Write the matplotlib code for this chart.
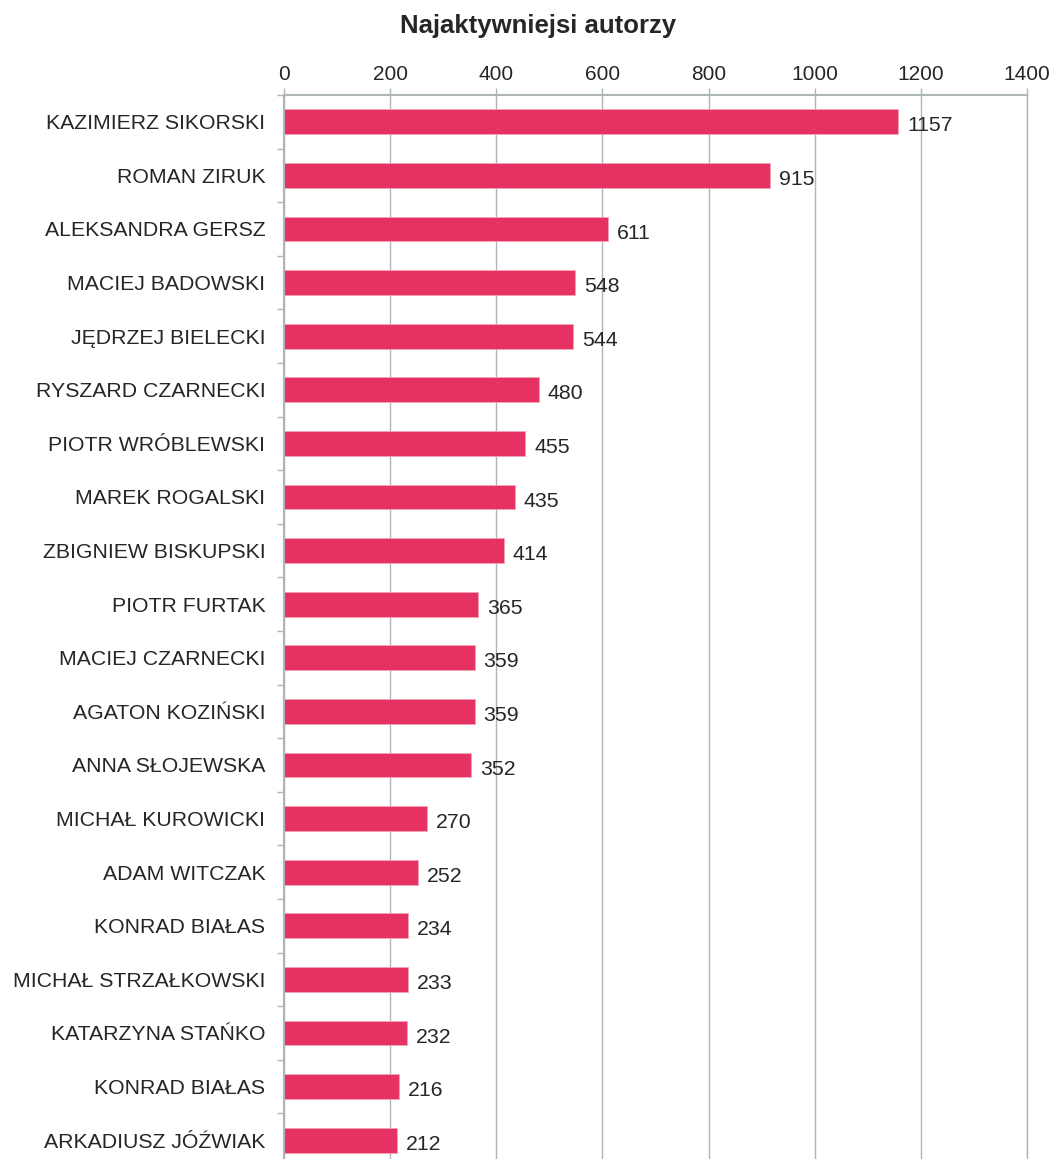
import matplotlib
matplotlib.use("Agg")
import matplotlib.pyplot as plt
from matplotlib.ticker import FixedLocator

authors = ["KAZIMIERZ SIKORSKI", "ROMAN ZIRUK", "ALEKSANDRA GERSZ", "MACIEJ BADOWSKI",
           "JĘDRZEJ BIELECKI", "RYSZARD CZARNECKI", "PIOTR WRÓBLEWSKI", "MAREK ROGALSKI",
           "ZBIGNIEW BISKUPSKI", "PIOTR FURTAK", "MACIEJ CZARNECKI", "AGATON KOZIŃSKI",
           "ANNA SŁOJEWSKA", "MICHAŁ KUROWICKI", "ADAM WITCZAK", "KONRAD BIAŁAS",
           "MICHAŁ STRZAŁKOWSKI", "KATARZYNA STAŃKO", "KONRAD BIAŁAS", "ARKADIUSZ JÓŹWIAK"]
counts = [1157, 915, 611, 548, 544, 480, 455, 435, 414, 365, 359, 359, 352, 270, 252,
          234, 233, 232, 216, 212]
x_ticks = [0, 200, 400, 600, 800, 1000, 1200, 1400]
title = "Najaktywniejsi autorzy"

plt.rcParams['font.family'] = ['Liberation Sans', 'DejaVu Sans']
text_color = "#262626"
grid_color = "#AEB5B9"
bar_color = "#E63262"

W, H = 1053, 1159
fig = plt.figure(figsize=(W / 100, H / 100), dpi=100)
left, right = 284 / W, 1027 / W
top_px, bot_px = 95, 1167
ax = fig.add_axes([left, 1 - bot_px / H, right - left, (bot_px - top_px) / H])

n = len(authors)
ypos = list(range(n))
ax.barh(ypos, counts, height=0.46, color=bar_color, edgecolor="#F4A5B8",
        linewidth=0.6, zorder=3)
ax.set_ylim(n - 0.5, -0.5)
ax.set_xlim(0, 1400)

ax.xaxis.tick_top()
ax.set_xticks(x_ticks)
ax.set_xticklabels([str(t) for t in x_ticks], fontsize=15, color=text_color)
ax.tick_params(axis='x', direction='out', length=5, width=1, color=grid_color, pad=3)
ax.grid(axis='x', color=grid_color, linewidth=1, zorder=0)

ax.set_yticks(ypos)
ax.set_yticklabels(authors, fontsize=15.3, color=text_color)
ax.tick_params(axis='y', which='major', length=0, pad=13.5)
ax.yaxis.set_minor_locator(FixedLocator([i - 0.5 for i in range(n + 1)]))
ax.tick_params(axis='y', which='minor', direction='out', length=5, width=1, color=grid_color)

ax.spines['bottom'].set_visible(False)
ax.spines['right'].set_color(grid_color)
ax.spines['right'].set_linewidth(1)
for s in ['top', 'left']:
    ax.spines[s].set_color(grid_color)
    ax.spines[s].set_linewidth(1.5)
    ax.spines[s].set_zorder(4)

for y, v in zip(ypos, counts):
    ax.annotate(str(v), xy=(v, y), xytext=(6.5, -3), textcoords='offset points',
                ha='left', va='center', fontsize=15.3, color=text_color)

fig.text(538 / W, 1 - 26 / H, title, ha='center', va='center', fontsize=18.5,
         fontweight='bold', color=text_color)

fig.savefig("out.png", dpi=100)
